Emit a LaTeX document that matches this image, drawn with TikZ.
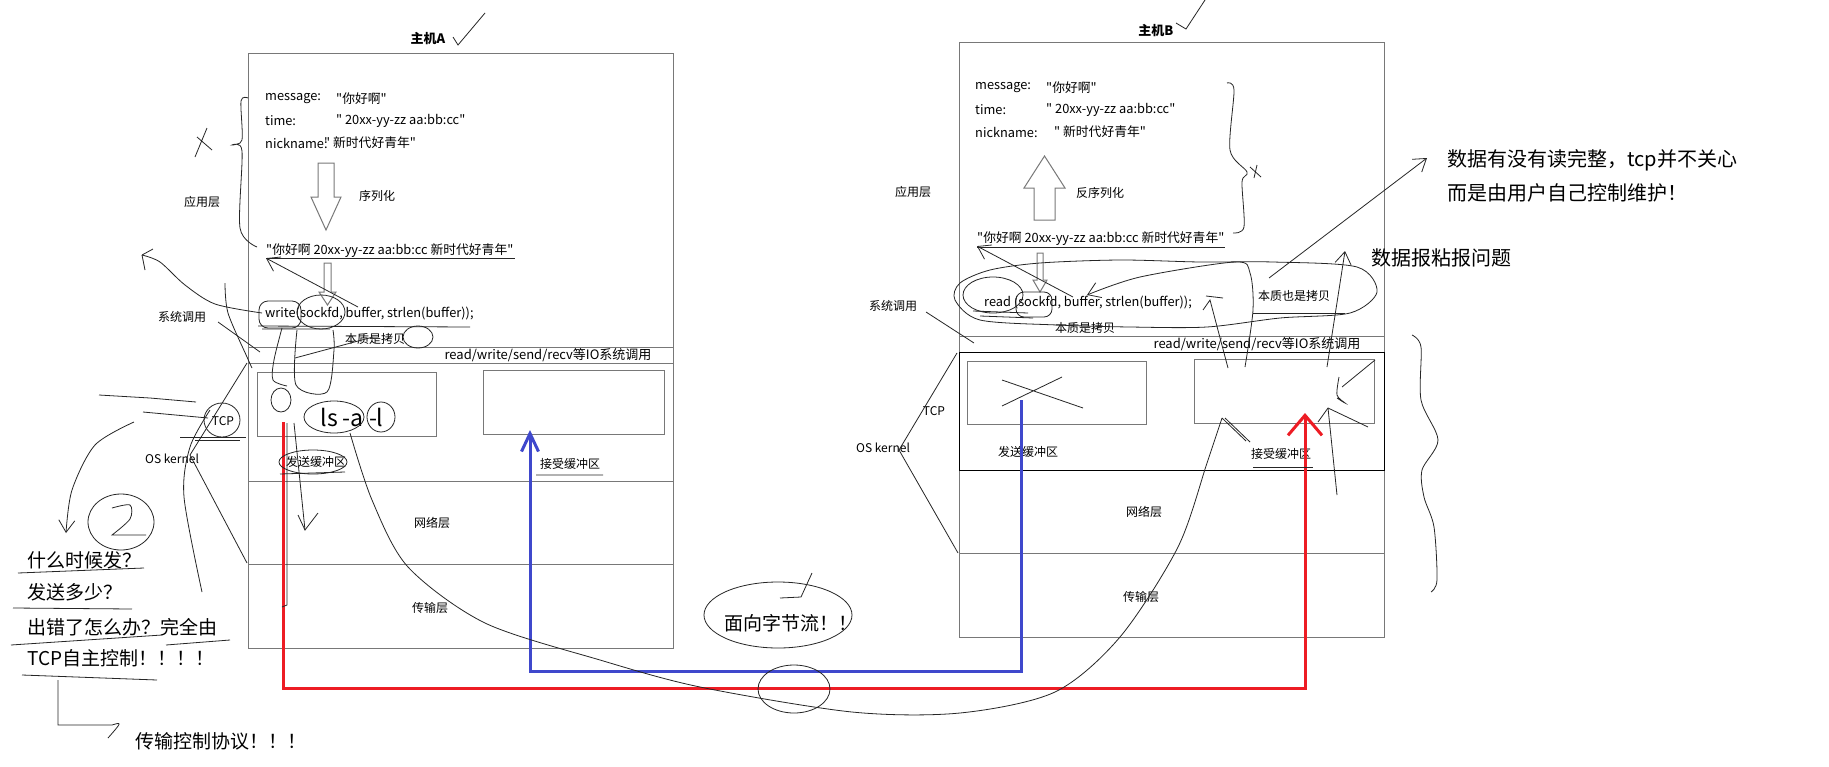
\documentclass[tikz,border=0pt]{standalone}
\usepackage{fontspec}
\setmainfont{Noto Sans CJK SC}[Ligatures=TeXOff]
\usetikzlibrary{arrows.meta, positioning}
\definecolor{paintred}{RGB}{237,28,36}
\definecolor{paintblue}{RGB}{63,72,204}
\definecolor{boxgray}{RGB}{120,120,120}
\tikzstyle{hostbox} = [rectangle, draw=boxgray, line width=1pt, anchor=north west, inner sep=0pt]
\tikzstyle{buffer} = [rectangle, draw=boxgray, line width=1pt, anchor=north west, inner sep=0pt]
\tikzstyle{title} = [font=\fontsize{13}{15}\selectfont\bfseries, inner sep=0pt]
\tikzstyle{smalltext} = [font=\fontsize{12}{14}\selectfont, inner sep=0pt]
\tikzstyle{codetext} = [font=\fontsize{12.8}{14}\selectfont, inner sep=0pt, anchor=west]
\tikzstyle{bigtext} = [font=\fontsize{19}{22}\selectfont, inner sep=0pt, anchor=west]
\tikzstyle{hollow} = [draw=boxgray, line width=1pt, fill=white]
\tikzstyle{scribble} = [line width=0.8pt, black!85]
\tikzstyle{arrow} = [scribble, -{Straight Barb[length=12pt, width=16pt]}]
\tikzstyle{redflow} = [paintred, line width=3pt, -{Straight Barb[length=20pt, width=34pt, line width=3pt]}]
\tikzstyle{blueflow} = [paintblue, line width=3pt, -{Straight Barb[length=18pt, width=17pt, line width=3pt]}]

\begin{document}
\begin{tikzpicture}[x=1pt, y=-1pt]
    \fill[white] (0,0) rectangle (1829,766);
    \useasboundingbox (0,0) rectangle (1829,766);

    % Host A
    \node[title] (titleA) at (428,39) {主机A};
    \node[hostbox, minimum width=425pt, minimum height=595pt] (hostA) at (248,53) {};
    \node[hostbox, minimum width=425pt, minimum height=16pt] (ioA) at (248,347) {};
    \draw[boxgray, line width=1pt] (248,481) -- (673,481) (248,564) -- (673,564);
    \node[buffer, minimum width=179pt, minimum height=64pt] (sendA) at (257,372) {};
    \node[buffer, minimum width=181pt, minimum height=64pt] (recvA) at (483,370) {};

    \node[codetext] (msgA) at (265,99) {message:};
    \node[codetext] (msgValA) at (336,99) {"你好啊"};
    \node[codetext] (timeA) at (265,121) {time:};
    \node[codetext] (timeValA) at (336,121) {" 20xx-yy-zz aa:bb:cc"};
    \node[codetext] (nickA) at (265,143) {nickname:};
    \node[codetext] (nickValA) at (324,143) {" 新时代好青年"};
    \draw[hollow] (318,163) -- (334,163) -- (334,197) -- (341,197) -- (326,230) -- (311,197) -- (318,197) -- cycle;
    \node[smalltext, anchor=west] (serA) at (359,196) {序列化};
    \node[codetext] (strA) at (266,251) {"你好啊 20xx-yy-zz aa:bb:cc 新时代好青年"};
    \draw[hollow] (324,263) -- (331,263) -- (331,292) -- (336,292) -- (327.5,305) -- (319,292) -- (324,292) -- cycle;
    \node[codetext] (writeA) at (265,314) {write(sockfd, buffer, strlen(buffer));};
    \node[smalltext] (copyA) at (375,339) {本质是拷贝};
    \node[font=\fontsize{13}{15}\selectfont, inner sep=0pt] (ioTextA) at (548,355) {read/write/send/recv等IO系统调用};
    \node[font=\fontsize{23}{26}\selectfont, inner sep=0pt] (lsA) at (352,417) {ls -a -l};
    \node[smalltext] (sendTextA) at (316,462) {发送缓冲区};
    \node[smalltext] (recvTextA) at (570,464) {接受缓冲区};
    \node[smalltext] (netA) at (432,523) {网络层};
    \node[smalltext] (transA) at (430,608) {传输层};
    \node[smalltext] (appA) at (202,202) {应用层};
    \node[smalltext] (sysA) at (182,317) {系统调用};
    \node[smalltext] (tcpA) at (223,421) {TCP};
    \node[smalltext] (kernelA) at (172,459) {OS kernel};

    % Notes on the left
    \node[bigtext] (whenA) at (27,560) {什么时候发？};
    \node[bigtext] (howA) at (27,592) {发送多少？};
    \node[bigtext] (errA) at (27,627) {出错了怎么办？完全由};
    \node[bigtext] (ctrlA) at (27,658) {TCP自主控制！！！！};
    \node[bigtext] (protoA) at (135,741) {传输控制协议！！！};

    % Host B
    \node[title] (titleB) at (1156,31) {主机B};
    \node[hostbox, minimum width=425pt, minimum height=595pt] (hostB) at (959,42) {};
    \node[hostbox, minimum width=425pt, minimum height=16pt] (ioB) at (959,336) {};
    \draw[black, line width=0.8pt] (959,352) rectangle (1384,470);
    \draw[boxgray, line width=1pt] (959,553) -- (1384,553);
    \node[buffer, minimum width=179pt, minimum height=63pt] (sendB) at (967,361) {};
    \node[buffer, minimum width=180pt, minimum height=64pt] (recvB) at (1194,359) {};

    \node[codetext] (msgB) at (975,88) {message:};
    \node[codetext] (msgValB) at (1046,88) {"你好啊"};
    \node[codetext] (timeB) at (975,110) {time:};
    \node[codetext] (timeValB) at (1046,110) {" 20xx-yy-zz aa:bb:cc"};
    \node[codetext] (nickB) at (975,132) {nickname:};
    \node[codetext] (nickValB) at (1054,132) {" 新时代好青年"};
    \draw[hollow] (1034,220) -- (1055,220) -- (1055,188) -- (1065,188) -- (1044.5,156) -- (1024,188) -- (1034,188) -- cycle;
    \node[smalltext, anchor=west] (deserB) at (1076,193) {反序列化};
    \node[codetext] (strB) at (977,239) {"你好啊 20xx-yy-zz aa:bb:cc 新时代好青年"};
    \draw[hollow] (1037,253) -- (1043,253) -- (1043,280) -- (1047,280) -- (1040,292) -- (1033,280) -- (1037,280) -- cycle;
    \node[codetext] (readB) at (984,303) {read (sockfd, buffer, strlen(buffer));};
    \node[smalltext] (copyB) at (1085,328) {本质是拷贝};
    \node[smalltext] (copyAlsoB) at (1294,296) {本质也是拷贝};
    \node[font=\fontsize{13}{15}\selectfont, inner sep=0pt] (ioTextB) at (1257,344) {read/write/send/recv等IO系统调用};
    \node[smalltext] (sendTextB) at (1028,452) {发送缓冲区};
    \node[smalltext] (recvTextB) at (1281,454) {接受缓冲区};
    \node[smalltext] (netB) at (1144,512) {网络层};
    \node[smalltext] (transB) at (1141,597) {传输层};
    \node[smalltext] (appB) at (913,192) {应用层};
    \node[smalltext] (sysB) at (893,306) {系统调用};
    \node[smalltext] (tcpB) at (934,411) {TCP};
    \node[smalltext] (kernelB) at (883,448) {OS kernel};

    % Notes on the right
    \node[bigtext, font=\fontsize{20}{24}\selectfont] (careB) at (1447,160) {数据有没有读完整，tcp并不关心};
    \node[bigtext, font=\fontsize{20}{24}\selectfont] (userB) at (1447,193) {而是由用户自己控制维护！};
    \node[bigtext, font=\fontsize{20}{24}\selectfont] (stickB) at (1371,258) {数据报粘报问题};
    \node[bigtext] (streamAB) at (724,623) {面向字节流！！};

    % Data flow
    \coordinate (redStart) at (283,422);
    \coordinate (redEnd) at (1305,413);
    \coordinate (redLow) at (0,688);
    \coordinate (blueStart) at (1021,400);
    \coordinate (blueEnd) at (530,430);
    \coordinate (blueLow) at (0,671);
    \draw[blueflow] (blueStart) -- (blueStart |- blueLow) -| (blueEnd);
    \draw[redflow] (redStart) -- (redStart |- redLow) -| (redEnd);

    % Scribbles on host A
    \draw[scribble] (453,37) -- (458,45) -- (485,13);
    \draw[scribble] plot[smooth] coordinates {(248,98) (241,101) (242,140) (232,145) (242,151) (240,228) (257,247)};
    \draw[scribble] (195,157) -- (207,128) (197,137) -- (212,150);
    \draw[scribble] (266,258) -- (515,258);
    \draw[arrow] (358,307) -- (strA.south west);
    \draw[scribble] plot[smooth] coordinates {(262,313) (215,304) (185,285) (160,262) (142,255)};
    \draw[scribble] (142,255) -- (153,249) (142,255) -- (145,270);
    \draw[scribble, rounded corners=9pt] (259,301) rectangle (301,328);
    \draw[scribble] (321,312) ellipse (24pt and 17pt);
    \draw[scribble] (258,326) -- (470,327) (262,329) -- (330,329);
    \draw[scribble] (418,337) ellipse (15pt and 11pt);
    \draw[scribble] plot[smooth] coordinates {(297,330) (296,385) (327,392) (334,350) (333,330)};
    \draw[scribble] plot[smooth] coordinates {(282,328) (274,360) (273,380) (287,386)};
    \draw[scribble] (295,358) -- (373,337);
    \draw[scribble] plot[smooth] coordinates {(225,283) (228,313) (247,357) (252,368)};
    \draw[scribble] (218,322) -- (260,352);
    \draw[scribble] (334,417) ellipse (30pt and 16pt);
    \draw[scribble] (381,417) ellipse (14pt and 15pt);
    \draw[scribble] (281,400) ellipse (10pt and 12pt);
    \draw[scribble] (222,420) ellipse (18pt and 17pt);
    \draw[scribble] (180,437) -- (246,437) (195,440) -- (240,440);
    \draw[scribble] (313,462) ellipse (34pt and 12pt);
    \draw[scribble] (280,474) -- (345,472) (536,475) -- (603,475);
    \draw[scribble] (287,423) -- (287,605) -- (282,607);
    \draw[scribble] (294,423) -- (305,530);
    \draw[scribble] (298,515) -- (305,530) -- (318,513);
    \draw[scribble] (247,363) -- (190,455) -- (247,563);
    \draw[scribble] (99,395) -- (150,398) -- (196,402) (143,412) -- (208,418);
    \draw[scribble] plot[smooth] coordinates {(210,410) (190,447) (184,497) (202,592)};
    \draw[arrow] plot[smooth] coordinates {(134,422) (95,445) (72,490) (66,533)};
    \draw[scribble] (121,522) ellipse (33pt and 28pt);
    \draw[scribble] plot[smooth] coordinates {(112,508) (130,505) (130,519) (112,535)} -- (146,535);
    \draw[scribble] (18,573) -- (144,568) (13,608) -- (132,609) (11,645) -- (162,635) (166,645) -- (230,640) (22,675) -- (157,680);
    \draw[scribble] (58,680) -- (58,725) -- (112,725) .. controls (122,722) .. (108,738);

    % Long stroke from host A to host B
    \draw[scribble] plot[smooth] coordinates {(350,433) (372,500) (408,567) (485,623) (600,660) (700,687) (852,712) (960,713) (1055,692) (1120,637) (1178,547) (1207,463) (1222,418)};
    \draw[scribble] (794,689) ellipse (36pt and 24pt);
    \draw[scribble] (778,615) ellipse (74pt and 33pt);
    \draw[scribble] (812,573) -- (801,597) -- (780,598);

    % Scribbles on host B
    \draw[scribble] (1176,23) -- (1186,29) -- (1205,0);
    \draw[scribble] plot[smooth] coordinates {(1227,83) (1234,90) (1230,150) (1247,172) (1242,182) (1244,227) (1233,233)};
    \draw[scribble] (1250,167) -- (1261,177) (1254,178) -- (1257,165);
    \draw[scribble] (977,247) -- (1225,247);
    \draw[arrow] (1073,297) -- (strB.south west);
    \draw[scribble] plot[smooth cycle] coordinates {(960,283) (990,270) (1040,263) (1120,260) (1200,262) (1273,262) (1357,267) (1377,292) (1350,313) (1280,318) (1207,327) (1130,327) (1057,325) (980,320) (955,300)};
    \draw[scribble] (993,295) ellipse (30pt and 18pt);
    \draw[scribble, rounded corners=8pt] (1016,292) rectangle (1052,317);
    \draw[scribble] (973,311) -- (1028,313) (980,316) -- (1033,318);
    \draw[arrow] plot[smooth] coordinates {(1245,367) (1253,310) (1250,273) (1235,262) (1140,277) (1087,295)};
    \draw[scribble] (1253,313) -- (1345,313);
    \draw[arrow] (1269,278) -- (1427,158);
    \draw[arrow] (1327,367) -- (1345,251);
    \draw[scribble] (1228,368) -- (1210,300) -- (1203,310) (1206,296) -- (1223,298);
    \draw[scribble] (1002,380) -- (1083,408) (1002,406) -- (1062,377);
    \draw[scribble] plot[smooth] coordinates {(1339,377) (1337,395) (1345,403) (1337,398)};
    \draw[scribble] (1342,387) -- (1375,360);
    \draw[scribble] (1318,422) -- (1328,408) -- (1368,427);
    \draw[scribble] (1328,408) -- (1337,495);
    \draw[scribble] (1250,442) -- (1225,418) (1246,441) -- (1222,418);
    \draw[scribble] (1253,467) -- (1313,467);
    \draw[scribble] plot[smooth] coordinates {(1412,335) (1421,347) (1421,400) (1438,440) (1422,470) (1424,497) (1434,527) (1437,580) (1431,592)};
    \draw[scribble] (957,353) -- (899,450) -- (958,553);
    \draw[scribble] (926,312) -- (974,343);
\end{tikzpicture}
\end{document}
